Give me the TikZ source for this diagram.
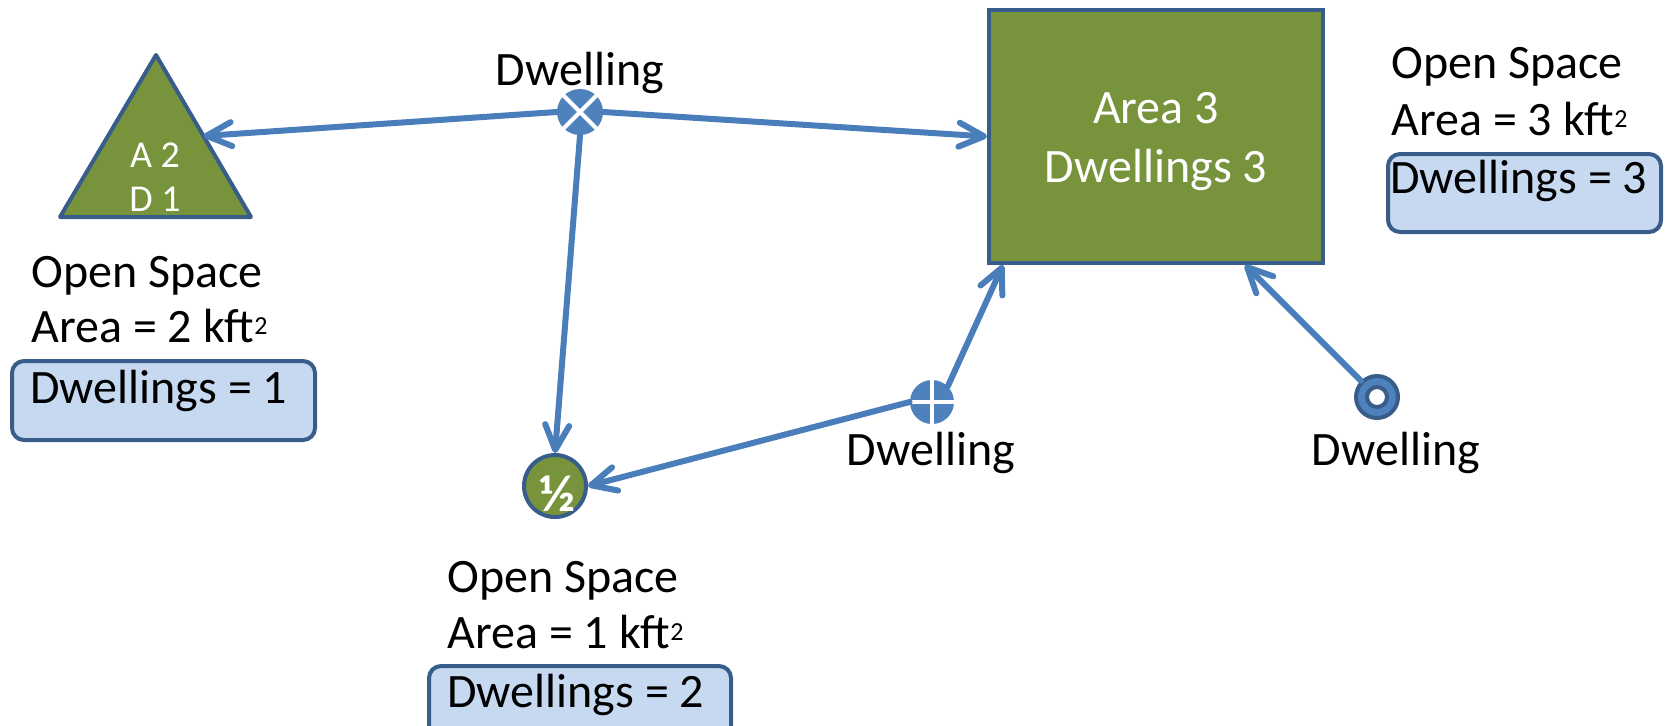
\documentclass[tikz,border=0pt]{standalone}
\usepackage{fontspec}
\setmainfont{Carlito}
\usetikzlibrary{arrows.meta,calc}
\definecolor{areagreen}{HTML}{77933C}
\definecolor{dblue}{HTML}{385D8A}
\definecolor{arrowblue}{HTML}{4A7EBB}
\definecolor{symblue}{HTML}{4F81BD}
\definecolor{boxfill}{HTML}{C6D9F1}
\newcommand{\sqr}{\raisebox{4pt}{\fontsize{13}{14}\selectfont 2}}
\begin{document}
\begin{tikzpicture}[x=0.5pt,y=-0.5pt,
  txt/.style={inner sep=0pt, font=\fontsize{24}{28}\selectfont, anchor=base west},
  ctxt/.style={txt, anchor=base},
  wtxt/.style={ctxt, text=white},
  conn/.style={draw=arrowblue, line width=3pt, line cap=round, line join=round, -{Straight Barb[length=12.5pt,width=12pt,round]}},
  areashape/.style={draw=dblue, fill=areagreen, line width=2pt},
  dbox/.style={draw=dblue, fill=boxfill, line width=2pt, rounded corners=6pt, anchor=north west, inner sep=0pt},
  sym/.style={circle, fill=symblue, inner sep=0pt},
]
\useasboundingbox (0,0) rectangle (1668,725);

% big area rectangle
\node[areashape, minimum width=167pt, minimum height=126.5pt, inner sep=0pt] (rect) at (1156,136.5) {};
\node[wtxt] (rt1) at (1156,123) {Area 3};
\node[wtxt] (rt2) at (1156,182) {Dwellings 3};

% triangle
\coordinate (triA) at (156,55);
\coordinate (triB) at (251,217);
\coordinate (triC) at (60,217);
\draw[areashape, line join=round] (triA) -- (triB) -- (triC) -- cycle;
\coordinate (triE) at ($(triA)!0.5!(triB)$);
\node[wtxt, font=\fontsize{19}{22}\selectfont] (tt1) at (155,167) {A 2};
\node[wtxt, font=\fontsize{19}{22}\selectfont] (tt2) at (155,211) {D 1};

% half circle
\node[circle, draw=dblue, fill=areagreen, line width=2pt, minimum size=31pt, inner sep=0pt] (half) at (555,486) {};
\node[text=white, font=\bfseries\fontsize{26}{28}\selectfont, inner sep=0pt] (halft) at (557,494) {½};

% dwelling symbols
\node[sym, minimum size=23pt] (xc) at (580,112) {};
\draw[white, line width=2pt] (xc.45) -- (xc.225) (xc.135) -- (xc.315);
\node[sym, minimum size=22pt] (pc) at (932,402) {};
\draw[white, line width=2pt] (pc.north) -- (pc.south) (pc.west) -- (pc.east);
\node[sym, draw=dblue, line width=2pt, minimum size=21pt] (ring) at (1377,397) {};
\node[circle, draw=dblue, fill=white, line width=2pt, minimum size=10pt, inner sep=0pt] (hole) at (ring.center) {};

\node[ctxt] (dw1) at (580,85) {Dwelling};
\node[ctxt] (dw2) at (931,465) {Dwelling};
\node[ctxt] (dw3) at (1396,465) {Dwelling};

% left info
\node[txt] (os1) at (31,287) {Open Space};
\node[txt] (ar1) at (31,342) {Area = 2 kft\sqr};
\node[dbox, minimum width=151.5pt, minimum height=39.5pt] (box1) at (10,359) {};
\node[txt] (bt1) at (30,403) {Dwellings = 1};

% middle info
\node[txt] (os2) at (447,592) {Open Space};
\node[txt] (ar2) at (447,648) {Area = 1 kft\sqr};
\node[dbox, minimum width=151pt, minimum height=41.5pt] (box2) at (427,664) {};
\node[txt] (bt2) at (447,707) {Dwellings = 2};

% right info
\node[txt] (os3) at (1391,78) {Open Space};
\node[txt] (ar3) at (1391,135) {Area = 3 kft\sqr};
\node[dbox, minimum width=136.5pt, minimum height=39pt] (box3) at (1386,152) {};
\node[txt] (bt3) at (1390,193) {Dwellings = 3};

% connectors
\coordinate (rectS1) at ($(rect.south west)+(16,0)$);
\coordinate (rectS2) at ($(rect.south west)+(258,0)$);
\draw[conn] (xc.west) -- (triE);
\draw[conn] (xc.east) -- (rect.west);
\draw[conn] (xc.south) -- (half.north);
\draw[conn] (pc.west) -- (half.east);
\draw[conn] (pc.north east) -- (rectS1);
\draw[conn] (ring.north west) -- (rectS2);
\end{tikzpicture}
\end{document}
